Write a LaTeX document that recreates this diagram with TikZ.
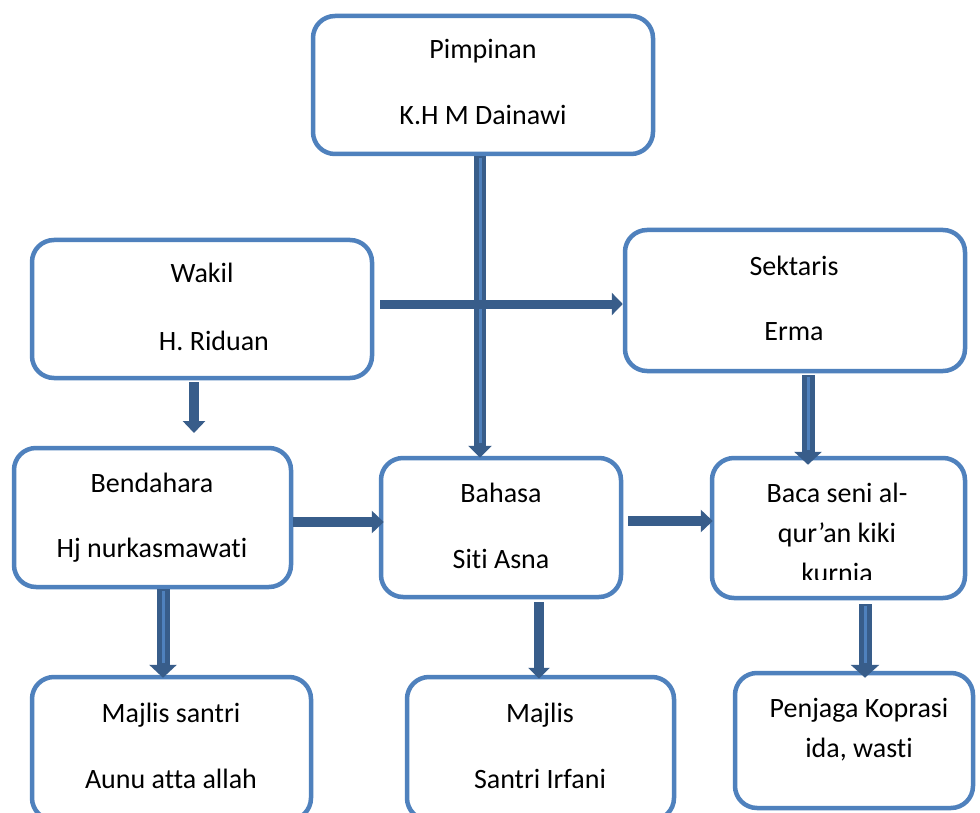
\documentclass[tikz,border=0pt]{standalone}
\usepackage{fontspec}
\setmainfont{Carlito}[Ligatures={NoCommon,NoContextual}]
\usetikzlibrary{arrows.meta}
\definecolor{boxblue}{HTML}{4F81BD}
\definecolor{arrdark}{HTML}{385D8A}
\definecolor{arrlight}{HTML}{4F81BD}
\begin{document}
\begin{tikzpicture}[x=1pt,y=-1pt,
  orgbox/.style={draw=boxblue, line width=4.5pt, rounded corners=22pt, fill=white, rectangle, inner sep=0pt},
  lbl/.style={font=\fontsize{28pt}{34pt}\selectfont, inner sep=0pt, anchor=base, text=black},
  sarr/.style={draw=arrdark, line width=10pt, -{Triangle[length=12pt,width=22pt]}},
  darr/.style={draw=arrdark, line width=13pt, -{Triangle[length=13pt,width=27pt]},
    postaction={draw=arrlight, line width=3pt, -, shorten >=15pt, shorten <=2pt}}]
\useasboundingbox (0,0) rectangle (980,813);
\clip (0,0) rectangle (980,813);
\fill[white] (0,0) rectangle (980,813);

% boxes
\node[orgbox, minimum width=340pt, minimum height=138pt] (pim) at (483,85) {};
\node[orgbox, minimum width=340pt, minimum height=138pt] (wak) at (202,309) {};
\node[orgbox, minimum width=340pt, minimum height=141pt] (sek) at (795,300.5) {};
\node[orgbox, minimum width=277pt, minimum height=139pt] (ben) at (152.5,517.5) {};
\node[orgbox, minimum width=240pt, minimum height=139pt] (bah) at (501,527.5) {};
\node[orgbox, minimum width=253pt, minimum height=140pt] (bac) at (838.5,528) {};
\node[orgbox, minimum width=279pt, minimum height=143pt] (ms) at (171.5,748.5) {};
\node[orgbox, minimum width=267pt, minimum height=143pt] (mj) at (540.5,748.5) {};
\node[orgbox, minimum width=238pt, minimum height=135pt] (pj) at (854,740.5) {};

% texts
\node[lbl] (pimA) at (483,59) {Pimpinan};
\node[lbl] (pimB) at (483,125) {K.H M Dainawi};
\node[lbl] (wakA) at (202,283) {Wakil};
\node[lbl] (wakB) at (214,350) {H. Riduan};
\node[lbl] (sekA) at (794,275) {Sektaris};
\node[lbl] (sekB) at (794,340) {Erma};
\node[lbl] (benA) at (152,492) {Bendahara};
\node[lbl] (benB) at (152,557) {Hj nurkasmawati};
\node[lbl] (bahA) at (501,502) {Bahasa};
\node[lbl] (bahB) at (501,568) {Siti Asna};
\node[lbl] (bacA) at (837,502) {Baca seni al-};
\node[lbl] (bacB) at (837,542) {qur’an kiki};
\begin{scope}
  \clip (700,440) rectangle (970,579);
  \node[lbl] (bacC) at (837,582) {kurnia};
\end{scope}
\node[lbl] (msA) at (171,722) {Majlis santri};
\node[lbl] (msB) at (171,788) {Aunu atta allah};
\node[lbl] (mjA) at (540,722) {Majlis};
\node[lbl] (mjB) at (540,788) {Santri Irfani};
\node[lbl] (pjA) at (859,717) {Penjaga Koprasi};
\node[lbl] (pjB) at (859,757) {ida, wasti};

% connectors
\coordinate (wakend) at (194,433);
\draw[darr, line width=12pt, -{Triangle[length=12pt,width=23pt]}] ([xshift=-3pt]pim.south) -- ([xshift=-21pt,yshift=-2pt]bah.north);
\draw[sarr, line width=9pt, -{Triangle[length=11pt,width=22pt]}] ([xshift=6pt,yshift=5pt]wak.east) -- ([yshift=-3.5pt]sek.west);
\draw[sarr] ([xshift=-8pt,yshift=-2pt]wak.south) -- (wakend);
\draw[darr] ([xshift=13pt,yshift=-2pt]sek.south) -- ([xshift=-30.5pt,yshift=-9pt]bac.north);
\draw[sarr] ([yshift=-4.5pt]ben.east) -- ([xshift=5pt,yshift=5.5pt]bah.west);
\draw[sarr] ([xshift=5pt,yshift=6.5pt]bah.east) -- ([xshift=3pt,yshift=7pt]bac.west);
\draw[darr] ([xshift=10.5pt]ben.south) -- ([xshift=-8.5pt,yshift=-3pt]ms.north);
\draw[sarr, -{Triangle[length=11pt,width=21pt]}] ([xshift=38pt,yshift=-3pt]bah.south) -- ([xshift=-1.5pt,yshift=-4pt]mj.north);
\draw[darr, -{Triangle[length=13pt,width=28pt]}] ([xshift=26.5pt,yshift=-4pt]bac.south) -- ([xshift=11pt,yshift=-7pt]pj.north);
\end{tikzpicture}
\end{document}
